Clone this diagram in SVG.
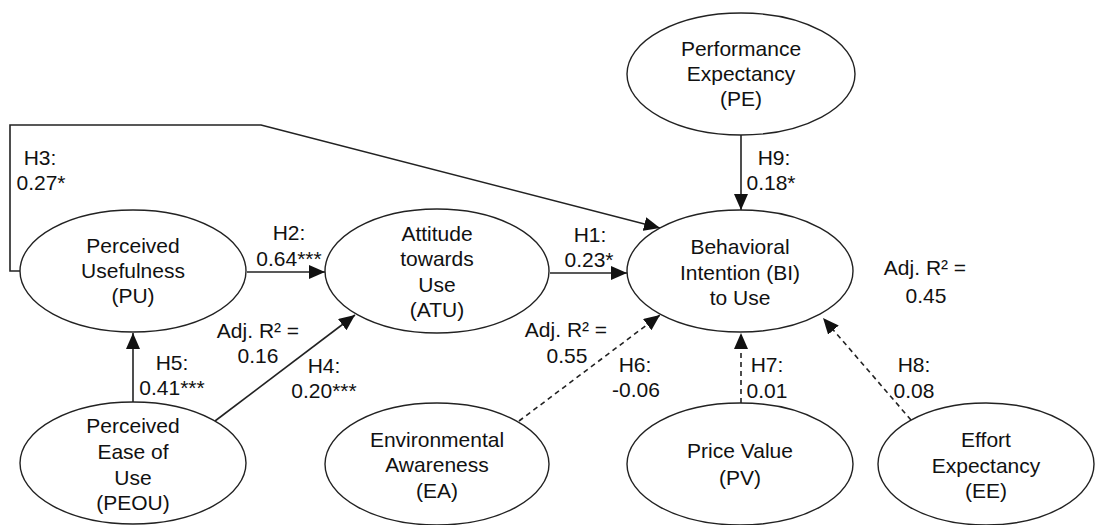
<svg xmlns="http://www.w3.org/2000/svg" width="1097" height="525" viewBox="0 0 1097 525">
<style>
.n{fill:#fff;stroke:#222;stroke-width:1.4}
text{font-family:"Liberation Sans",Arial,sans-serif;font-size:21px;fill:#111;text-anchor:middle}
.c{fill:none;stroke:#222;stroke-width:1.6}
.d{stroke-dasharray:5,4}
</style>
<defs>
<marker id="ah" markerUnits="userSpaceOnUse" markerWidth="17" markerHeight="15" refX="16" refY="7" orient="auto">
<path d="M0,0 L16,7 L0,14 z" fill="#111"/>
</marker>
</defs>
<rect width="1097" height="525" fill="#fff"/>
<g id="connectors">
<polyline class="c" points="20,271 10,271 10,125 261,125 660,228" marker-end="url(#ah)"/>
<line class="c" x1="247" y1="272" x2="325" y2="272" marker-end="url(#ah)"/>
<line class="c" x1="550" y1="273" x2="627" y2="273" marker-end="url(#ah)"/>
<line class="c" x1="741" y1="135" x2="741" y2="210" marker-end="url(#ah)"/>
<line class="c" x1="133" y1="403" x2="133" y2="333" marker-end="url(#ah)"/>
<line class="c" x1="215" y1="421" x2="355" y2="315" marker-end="url(#ah)"/>
<line class="c d" x1="519" y1="421" x2="660" y2="315" marker-end="url(#ah)"/>
<line class="c d" x1="741" y1="403" x2="741" y2="333" marker-end="url(#ah)"/>
<line class="c d" x1="911" y1="420" x2="823" y2="318" marker-end="url(#ah)"/>
</g>
<g id="labels">
<text x="40" y="165">H3:</text><text x="41" y="190">0.27*</text>
<text x="289" y="240">H2:</text><text x="289" y="266">0.64***</text>
<text x="590" y="242">H1:</text><text x="589" y="267">0.23*</text>
<text x="774" y="165">H9:</text><text x="771" y="190">0.18*</text>
<text x="172" y="370">H5:</text><text x="172" y="395">0.41***</text>
<text x="258" y="338">Adj. R² =</text><text x="258" y="363">0.16</text>
<text x="324" y="373">H4:</text><text x="324" y="398">0.20***</text>
<text x="566" y="337">Adj. R² =</text><text x="567" y="363">0.55</text>
<text x="635" y="372">H6:</text><text x="636" y="397">-0.06</text>
<text x="767" y="372">H7:</text><text x="767" y="398">0.01</text>
<text x="914" y="372">H8:</text><text x="914" y="398">0.08</text>
<text x="925" y="275">Adj. R² =</text><text x="926" y="303">0.45</text>
</g>
<g id="PE"><ellipse class="n" cx="741" cy="74" rx="114" ry="61"/>
<text x="741" y="56">Performance</text><text x="741" y="81">Expectancy</text><text x="741" y="106">(PE)</text></g>
<g id="PU"><ellipse class="n" cx="133" cy="271" rx="113" ry="61"/>
<text x="133" y="253">Perceived</text><text x="133" y="278">Usefulness</text><text x="133" y="303">(PU)</text></g>
<g id="ATU"><ellipse class="n" cx="437" cy="271" rx="112" ry="62"/>
<text x="437" y="241">Attitude</text><text x="437" y="266">towards</text><text x="437" y="292">Use</text><text x="437" y="317">(ATU)</text></g>
<g id="BI"><ellipse class="n" cx="740" cy="271" rx="113" ry="61"/>
<text x="740" y="254">Behavioral</text><text x="740" y="280">Intention (BI)</text><text x="740" y="305">to Use</text></g>
<g id="PEOU"><ellipse class="n" cx="133" cy="463" rx="113" ry="61"/>
<text x="133" y="433">Perceived</text><text x="133" y="459">Ease of</text><text x="133" y="485">Use</text><text x="133" y="510">(PEOU)</text></g>
<g id="EA"><ellipse class="n" cx="437" cy="464" rx="112" ry="61"/>
<text x="437" y="447">Environmental</text><text x="437" y="472">Awareness</text><text x="437" y="498">(EA)</text></g>
<g id="PV"><ellipse class="n" cx="740" cy="464" rx="113" ry="61"/>
<text x="740" y="458">Price Value</text><text x="740" y="485">(PV)</text></g>
<g id="EE"><ellipse class="n" cx="986" cy="464" rx="108" ry="61"/>
<text x="986" y="447">Effort</text><text x="986" y="473">Expectancy</text><text x="986" y="498">(EE)</text></g>
</svg>
